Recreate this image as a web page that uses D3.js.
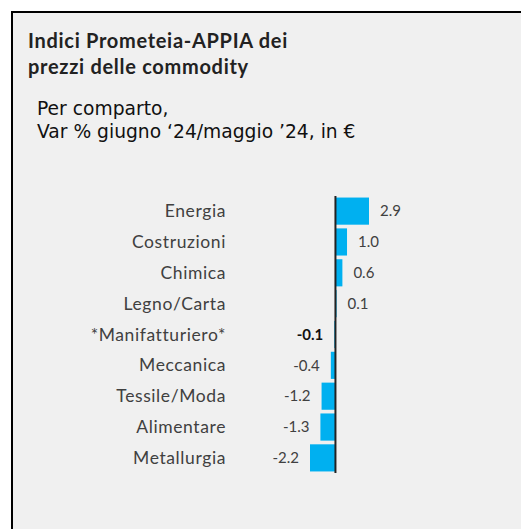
<!DOCTYPE html>
<html>
<head>
<meta charset="utf-8">
<script src="https://cdn.jsdelivr.net/npm/d3@7"></script>
<style>
  html, body { margin: 0; padding: 0; background: #fff; }
  svg { display: block; }
</style>
</head>
<body>
<div id="chart"></div>
<script>
const categories = ['Energia', 'Costruzioni', 'Chimica', 'Legno/Carta', '*Manifatturiero*',
  'Meccanica', 'Tessile/Moda', 'Alimentare', 'Metallurgia'];
const values = [2.9, 1.0, 0.6, 0.1, -0.1, -0.4, -1.2, -1.3, -2.2];
const valueLabels = ['2.9', '1.0', '0.6', '0.1', '-0.1', '-0.4', '-1.2', '-1.3', '-2.2'];
const titleLines = ['Indici Prometeia-APPIA dei', 'prezzi delle commodity'];
const subtitleLines = ['Per comparto,', 'Var % giugno \u201824/maggio \u201924, in \u20ac'];

const width = 521;
const height = 529;

const svg = d3.select('#chart')
  .append('svg')
  .attr('width', width)
  .attr('height', height);

// panel: frame only shows on left and top
svg.append('rect')
  .attr('x', 12).attr('y', 12)
  .attr('width', width + 10).attr('height', height + 10)
  .attr('fill', '#f0f0f0')
  .attr('stroke', '#000')
  .attr('stroke-width', 2);

svg.append('g')
  .selectAll('text')
  .data(titleLines)
  .join('text')
  .attr('x', 28)
  .attr('y', (d, i) => 48 + i * 26)
  .style('font-family', 'Lato, sans-serif')
  .style('font-weight', 'bold')
  .style('font-size', '20px')
  .style('letter-spacing', '0.7px')
  .style('fill', '#222')
  .text((d) => d);

svg.append('g')
  .selectAll('text')
  .data(subtitleLines)
  .join('text')
  .attr('x', 37)
  .attr('y', (d, i) => 115 + i * 23)
  .style('font-family', '"DejaVu Sans", Verdana, sans-serif')
  .style('font-size', '18.7px')
  .style('fill', '#111')
  .text((d) => d);

const x = d3.scaleLinear()
  .domain([d3.min(values), d3.max(values)])
  .range([310, 369]);

const y = d3.scaleBand()
  .domain(categories)
  .range([196, 473])
  .paddingInner(0.12)
  .paddingOuter(0.05);

const rows = categories.map((c, i) => ({ cat: c, value: values[i], label: valueLabels[i] }));

svg.append('g')
  .selectAll('rect')
  .data(rows)
  .join('rect')
  .attr('x', (d) => Math.min(x(0), x(d.value)))
  .attr('y', (d) => y(d.cat))
  .attr('width', (d) => Math.abs(x(d.value) - x(0)))
  .attr('height', y.bandwidth())
  .attr('fill', '#00b0f0');

svg.append('line')
  .attr('x1', x(0)).attr('x2', x(0))
  .attr('y1', 196).attr('y2', 473)
  .attr('stroke', '#222')
  .attr('stroke-width', 2);

// category labels
svg.append('g')
  .selectAll('text')
  .data(rows)
  .join('text')
  .attr('x', 226)
  .attr('y', (d) => y(d.cat) + y.bandwidth() / 2)
  .attr('dy', '0.35em')
  .attr('text-anchor', 'end')
  .style('font-family', 'Lato, sans-serif')
  .style('font-size', '17.5px')
  .style('letter-spacing', '0.6px')
  .style('fill', '#404040')
  .text((d) => d.cat);

// value labels
svg.append('g')
  .selectAll('text')
  .data(rows)
  .join('text')
  .attr('x', (d) => (d.value >= 0 ? x(d.value) + 11 : x(d.value) - 11))
  .attr('y', (d) => y(d.cat) + y.bandwidth() / 2)
  .attr('dy', '0.35em')
  .attr('text-anchor', (d) => (d.value >= 0 ? 'start' : 'end'))
  .style('font-family', 'Lato, sans-serif')
  .style('font-size', '15px')
  .style('font-weight', (d) => (d.cat === '*Manifatturiero*' ? 'bold' : 'normal'))
  .style('fill', (d) => (d.cat === '*Manifatturiero*' ? '#111' : '#404040'))
  .text((d) => d.label);
</script>
</body>
</html>
